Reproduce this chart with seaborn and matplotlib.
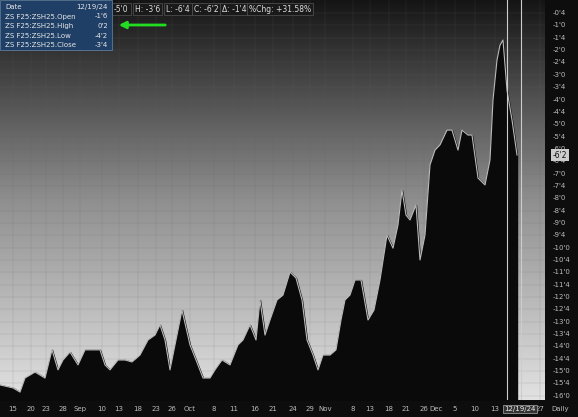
import numpy as np
import pandas as pd
import matplotlib
matplotlib.use("Agg")
import matplotlib.pyplot as plt
import seaborn as sns

pos = [0,13,20,25,35,45,52,58,63,70,78,85,92,100,105,110,118,125,132,140,148,155,160,165,170,176,182,190,196,203,210,215,222,230,238,243,250,256,260,265,270,277,283,290,296,302,307,313,318,323,330,336,341,345,350,355,361,368,374,380,387,393,398,402,406,410,416,420,425,430,435,440,447,452,458,462,468,472,478,485,490,493,497,500,503,507,512,517]
spread = [-15.56,-15.68,-15.85,-15.28,-15.04,-15.28,-14.14,-14.95,-14.55,-14.23,-14.75,-14.14,-14.14,-14.14,-14.75,-14.95,-14.55,-14.55,-14.63,-14.35,-13.74,-13.54,-13.13,-13.74,-14.95,-13.74,-12.53,-13.94,-14.55,-15.28,-15.28,-14.95,-14.55,-14.75,-13.94,-13.74,-13.13,-13.74,-12.12,-13.54,-12.93,-12.12,-11.92,-10.99,-11.23,-12.12,-13.74,-14.35,-14.95,-14.35,-14.35,-14.14,-12.93,-12.12,-11.92,-11.31,-11.31,-12.93,-12.53,-11.31,-9.49,-10.02,-9.08,-7.67,-8.68,-8.88,-8.27,-10.50,-9.49,-6.65,-6.05,-5.84,-5.24,-5.24,-6.05,-5.24,-5.44,-5.44,-7.18,-7.46,-6.45,-4.02,-2.40,-1.80,-1.59,-3.62,-4.83,-6.25]
xtick_pos = [13,31,46,63,80,102,119,138,156,172,190,214,234,255,273,293,310,325,353,370,389,406,424,436,455,475,495,540,560]
xtick_lab = ["15","20","23","28","Sep","10","13","18","23","26","Oct","8","11","16","21","24","29","Nov","8","13","18","21","26","Dec","5","10","13","27","Daily"]
legend_rows = [("Date","12/19/24"),("ZS F25:ZSH25.Open","-1'6"),("ZS F25:ZSH25.High","0'2"),("ZS F25:ZSH25.Low","-4'2"),("ZS F25:ZSH25.Close","-3'4")]
header = ["-5'0","H: -3'6","L: -6'4","C: -6'2","Δ: -1'4","%Chg: +31.58%"]
header_x = [114, 135, 166, 194, 222, 249]

df = pd.DataFrame({"pos": pos, "spread": spread})
fig = plt.figure(figsize=(5.78, 4.17), dpi=100, facecolor="#0d0d0d")
ax = fig.add_axes([0, 17/417, 545/578, 400/417])
ymin, ymax = -16.17, 0.03
ax.set_xlim(0, 545); ax.set_ylim(ymin, ymax)
grad = np.linspace(0, 1, 256).reshape(-1, 1)
ax.imshow(grad, extent=[0, 545, ymin, ymax], aspect="auto",
          cmap=matplotlib.colors.LinearSegmentedColormap.from_list("g", ["#e2e2e2", "#8f8f8f", "#151515"]),
          origin="lower", zorder=0)
ax.fill_between(df["pos"], df["spread"], ymin, color="#0a0a0a", zorder=2)
sns.lineplot(data=df, x="pos", y="spread", color="#bbbbbb", lw=0.8, ax=ax, zorder=3)
for v in np.arange(-0.5, -16.01, -0.5):
    ax.axhline(v, color="#666666", lw=0.3, alpha=0.35, zorder=1)
for x in xtick_pos:
    ax.axvline(x, color="#666666", lw=0.3, alpha=0.35, zorder=1)
ax.axvline(507, color="#cccccc", lw=0.8, zorder=4)
ax.axvline(521, color="#cccccc", lw=0.8, zorder=4)
ax.set_xticks([]); ax.set_yticks([])
ax.set_xlabel(""); ax.set_ylabel("")
for s in ax.spines.values():
    s.set_visible(False)

def fmt(v):
    w = int(abs(v)); f = int(round((abs(v) - w) * 8))
    return f"-{w}'{f}"
for v in np.arange(-0.5, -16.01, -0.5):
    ax.text(553, v, fmt(v), color="#bbbbbb", fontsize=5, va="center", ha="left", clip_on=False)
ax.text(553, -6.25, "-6'2", color="#111111", fontsize=5.5, va="center", ha="left", clip_on=False,
        bbox=dict(boxstyle="square,pad=0.2", fc="#cccccc", ec="none"))
for x, l in zip(xtick_pos, xtick_lab):
    fig.text(x / 578, 8 / 417, l, color="#bbbbbb", fontsize=5, ha="center", va="center")
fig.text(520 / 578, 8 / 417, "12/19/24", color="#eeeeee", fontsize=5, ha="center", va="center",
         bbox=dict(boxstyle="square,pad=0.2", fc="#333333", ec="#aaaaaa", lw=0.5))
for hx, h in zip(header_x, header):
    fig.text(hx / 578, 1 - 9 / 417, h, color="#dddddd", fontsize=5.5, ha="left", va="center",
             bbox=dict(boxstyle="square,pad=0.25", fc="#1a1a1a", ec="#555555", lw=0.5))
fig.patches.append(matplotlib.patches.Rectangle((0, 1 - 50 / 417), 112 / 578, 50 / 417, transform=fig.transFigure,
                                                 fc="#1f3f66", ec="#6688aa", lw=0.5, zorder=5))
for i, (k, v) in enumerate(legend_rows):
    y = 1 - (7 + i * 9.5) / 417
    fig.text(5 / 578, y, k, color="#e6e6e6", fontsize=5, ha="left", va="center", zorder=6)
    fig.text(108 / 578, y, v, color="#e6e6e6", fontsize=5, ha="right", va="center", zorder=6)
fig.add_artist(matplotlib.patches.FancyArrowPatch((168 / 578, 1 - 25 / 417), (116 / 578, 1 - 25 / 417),
               transform=fig.transFigure, arrowstyle="-|>", mutation_scale=10, color="#22dd22", lw=2))
fig.savefig("out.png", dpi=100, facecolor=fig.get_facecolor())
